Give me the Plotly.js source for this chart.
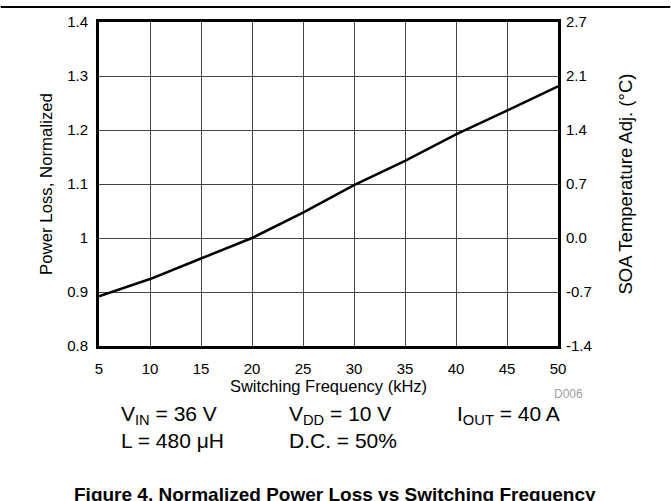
<!DOCTYPE html>
<html>
<head>
<meta charset="utf-8">
<script src="https://cdn.plot.ly/plotly-3.0.1.min.js"></script>
<style>html,body{margin:0;padding:0;background:#fff;}#chart{width:671px;height:501px;}</style>
</head>
<body>
<div id="chart"></div>
<script>
// Data
const freq = [5, 10, 15, 20, 25, 30, 35, 40, 45, 50];
const powerLoss = [0.892, 0.924, 0.962, 1.0, 1.047, 1.098, 1.143, 1.192, 1.236, 1.281];
const xTicks = [5, 10, 15, 20, 25, 30, 35, 40, 45, 50];
const yTickVals = [0.8, 0.9, 1.0, 1.1, 1.2, 1.3, 1.4];
const yTickText = ["0.8", "0.9", "1", "1.1", "1.2", "1.3", "1.4"];
const y2TickText = ["-1.4", "-0.7", "0.0", "0.7", "1.4", "2.1", "2.7"];

const FONT = "Liberation Sans, Arial, sans-serif";
const L = 98.5, R = 558.5, T = 22, B = 346, W = 671, H = 501;
const px = x => (x - L) / (R - L);
const py = y => (B - y) / (B - T);

const traces = [
  {x: freq, y: powerLoss, type: 'scatter', mode: 'lines', line: {color: '#000', width: 2.5}, showlegend: false, hoverinfo: 'skip'},
  {x: freq, y: powerLoss, type: 'scatter', mode: 'lines', yaxis: 'y2', line: {color: 'rgba(0,0,0,0)', width: 0}, showlegend: false, hoverinfo: 'skip'}
];

const layout = {
  width: W, height: H,
  margin: {l: L, r: W - R, t: T, b: H - B, pad: 0},
  paper_bgcolor: '#fff', plot_bgcolor: '#fff',
  font: {family: FONT, color: '#000', size: 15},
  showlegend: false,
  xaxis: {
    range: [5, 50], tickvals: xTicks, ticktext: xTicks.map(String),
    showgrid: true, gridcolor: '#444', gridwidth: 1,
    showline: true, linecolor: '#000', linewidth: 3, mirror: true,
    ticks: 'outside', ticklen: 7, tickcolor: 'rgba(0,0,0,0)',
    zeroline: false, tickfont: {size: 15},
    title: {text: 'Switching Frequency (kHz)', font: {size: 16.5}, standoff: 1}
  },
  yaxis: {
    range: [0.8, 1.4], tickvals: yTickVals, ticktext: yTickText,
    showgrid: true, gridcolor: '#444', gridwidth: 1,
    showline: true, linecolor: '#000', linewidth: 3, mirror: true,
    ticks: 'outside', ticklen: 5, tickcolor: 'rgba(0,0,0,0)',
    zeroline: false, tickfont: {size: 15},
    title: {text: 'Power Loss, Normalized', font: {size: 16.8}, standoff: 11}
  },
  yaxis2: {
    overlaying: 'y', side: 'right', range: [0.8, 1.4],
    tickvals: yTickVals, ticktext: y2TickText,
    showgrid: false, showline: false, zeroline: false,
    ticks: 'outside', ticklen: 4, tickcolor: 'rgba(0,0,0,0)',
    tickfont: {size: 15},
    title: {text: 'SOA Temperature Adj. (°C)', font: {size: 18.5}, standoff: 28}
  },
  shapes: [
    {type: 'line', xref: 'paper', yref: 'paper', x0: px(0), x1: px(W), y0: py(7), y1: py(7), line: {color: '#000', width: 2}}
  ],
  annotations: [
    {text: 'D006', xref: 'paper', yref: 'paper', x: px(586), y: py(394), xanchor: 'right', yanchor: 'middle', showarrow: false, font: {size: 12, color: '#a0a0a0'}},
    {text: 'V<sub>IN</sub> = 36 V', xref: 'paper', yref: 'paper', x: px(119), y: py(400), xanchor: 'left', yanchor: 'top', showarrow: false, font: {size: 21}},
    {text: 'V<sub>DD</sub> = 10 V', xref: 'paper', yref: 'paper', x: px(287), y: py(400), xanchor: 'left', yanchor: 'top', showarrow: false, font: {size: 21}},
    {text: 'I<sub>OUT</sub> = 40 A', xref: 'paper', yref: 'paper', x: px(455), y: py(400), xanchor: 'left', yanchor: 'top', showarrow: false, font: {size: 21}},
    {text: 'L = 480 μH', xref: 'paper', yref: 'paper', x: px(119), y: py(427), xanchor: 'left', yanchor: 'top', showarrow: false, font: {size: 21}},
    {text: 'D.C. = 50%', xref: 'paper', yref: 'paper', x: px(287), y: py(427), xanchor: 'left', yanchor: 'top', showarrow: false, font: {size: 21}},
    {text: '<b>Figure 4. Normalized Power Loss vs Switching Frequency</b>', xref: 'paper', yref: 'paper', x: px(335.5), y: py(482), xanchor: 'center', yanchor: 'top', showarrow: false, font: {size: 19}}
  ]
};

Plotly.newPlot('chart', traces, layout, {staticPlot: true, displayModeBar: false});
</script>
</body>
</html>
